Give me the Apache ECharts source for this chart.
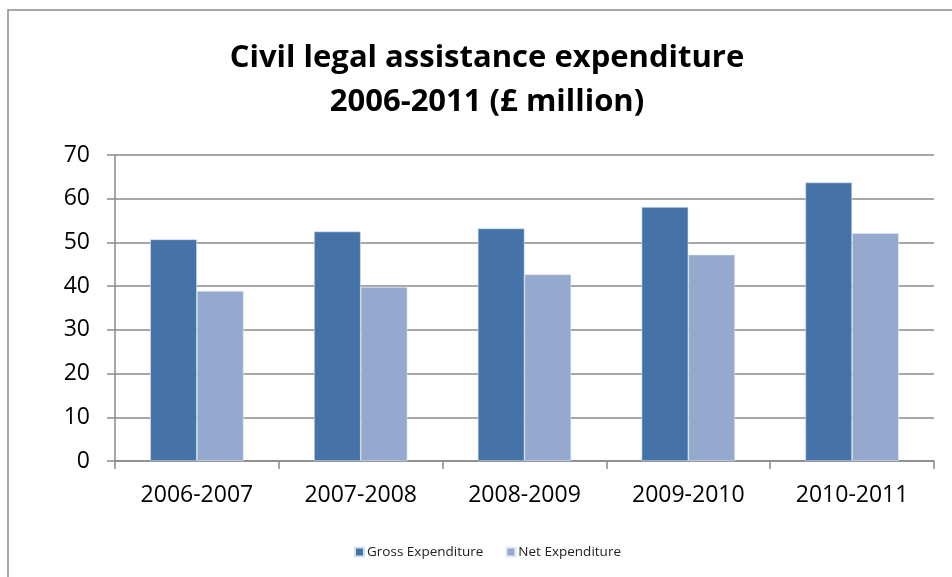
<!DOCTYPE html>
<html>
<head>
<meta charset="utf-8">
<script src="https://cdn.jsdelivr.net/npm/echarts@6/dist/echarts.min.js"></script>
<style>
  html, body { margin: 0; padding: 0; background: #fff; }
  #chart { width: 952px; height: 577px; }
</style>
</head>
<body>
<div id="chart"></div>
<script>
// Civil legal assistance expenditure, £ million
const years = ['2006-2007', '2007-2008', '2008-2009', '2009-2010', '2010-2011'];
const grossExpenditure = [50.7, 52.5, 53.2, 58.1, 63.7];
const netExpenditure = [38.9, 39.8, 42.7, 47.2, 52.1];
const yTicks = [0, 10, 20, 30, 40, 50, 60, 70];

const font = '"Open Sans", "Noto Sans", sans-serif';
const gridColor = '#8a8a8a';

const chart = echarts.init(document.getElementById('chart'), null, { renderer: 'canvas' });

chart.setOption({
  animation: false,
  backgroundColor: '#fff',
  graphic: [{
    type: 'rect',
    shape: { x: 8, y: 10, width: 960, height: 590 },
    style: { fill: 'none', stroke: '#8c8c8c', lineWidth: 1.5 },
    silent: true
  }],
  title: {
    text: 'Civil legal assistance expenditure\n2006-2011 (£ million)',
    left: 487,
    top: 36,
    textAlign: 'center',
    padding: 0,
    textStyle: {
      fontFamily: font,
      fontWeight: 'bold',
      fontSize: 31,
      lineHeight: 44,
      color: '#000'
    }
  },
  legend: {
    left: 354,
    top: 545,
    padding: 0,
    itemWidth: 9,
    itemHeight: 9,
    itemGap: 22,
    icon: 'rect',
    textStyle: { fontFamily: font, fontSize: 13.5, color: '#222', padding: [0, 0, 0, -2] },
    data: ['Gross Expenditure', 'Net Expenditure']
  },
  grid: { left: 115, right: 18, top: 155, bottom: 116 },
  xAxis: {
    type: 'category',
    data: years,
    axisLine: { lineStyle: { color: gridColor, width: 1.5 } },
    axisTick: { show: true, length: 8, alignWithLabel: false, lineStyle: { color: gridColor, width: 1.5 } },
    axisLabel: { fontFamily: font, fontSize: 23, color: '#000', margin: 23 }
  },
  yAxis: {
    type: 'value',
    min: yTicks[0],
    max: yTicks[yTicks.length - 1],
    interval: 10,
    axisLine: { show: true, lineStyle: { color: gridColor, width: 1.5 } },
    axisTick: { show: true, length: 8, lineStyle: { color: gridColor, width: 1.5 } },
    axisLabel: { fontFamily: font, fontSize: 23, color: '#000', margin: 25 },
    splitLine: { lineStyle: { color: gridColor, width: 1.5 } }
  },
  series: [
    {
      name: 'Gross Expenditure',
      type: 'bar',
      data: grossExpenditure,
      barGap: '0%',
      barCategoryGap: '43%',
      itemStyle: { color: '#4572A7', borderColor: '#dbe3ef', borderWidth: 0.6 }
    },
    {
      name: 'Net Expenditure',
      type: 'bar',
      data: netExpenditure,
      itemStyle: { color: '#95A9CF', borderColor: '#e3e9f3', borderWidth: 0.6 }
    }
  ]
});
</script>
</body>
</html>
